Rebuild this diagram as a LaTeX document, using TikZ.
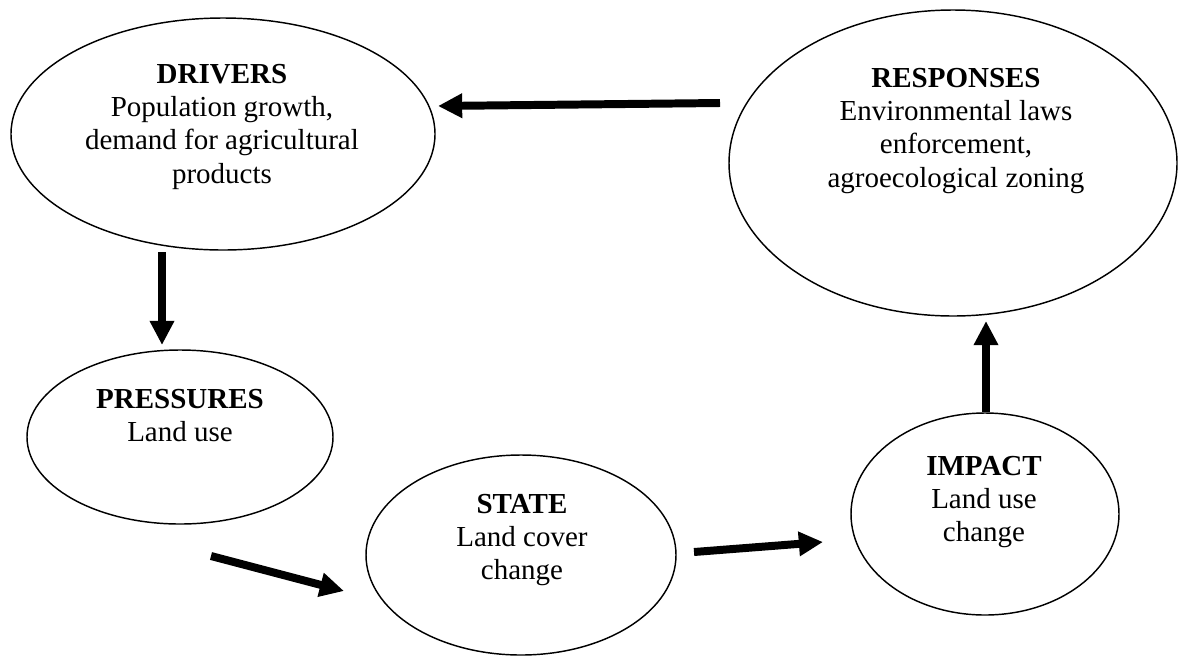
\documentclass[tikz,border=0pt]{standalone}
\usepackage{fontspec}
\setmainfont{Liberation Serif}
\usetikzlibrary{shapes.geometric,arrows.meta}
\tikzset{
  oval/.style={ellipse, draw=black, line width=0.6pt, inner sep=0pt},
  lbl/.style={anchor=base, inner sep=0pt, font=\fontsize{12}{13.8}\selectfont},
  bigarrow/.style={line width=3.3pt, -{Triangle[length=10pt,width=9.6pt]}},
}
\newcommand{\stack}[1]{\begin{tabular}[t]{@{}c@{}}#1\end{tabular}}
\begin{document}
\begin{tikzpicture}[x=0.41379pt, y=-0.41379pt]
\useasboundingbox (0,0) rectangle (1178,655);
% ellipses
\node[oval, minimum width=424*0.41379pt, minimum height=232*0.41379pt] (drivers) at (223,134) {};
\node[oval, minimum width=448*0.41379pt, minimum height=306*0.41379pt] (responses) at (953,163) {};
\node[oval, minimum width=306*0.41379pt, minimum height=174*0.41379pt] (pressures) at (180,437) {};
\node[oval, minimum width=310*0.41379pt, minimum height=200*0.41379pt] (state) at (521,555) {};
\node[oval, minimum width=268*0.41379pt, minimum height=202*0.41379pt] (impact) at (985,514) {};
% texts
\node[lbl] (tdrivers) at (222,83) {\stack{\textbf{DRIVERS}\\Population growth,\\demand for agricultural\\products}};
\node[lbl] (tresponses) at (956,87) {\stack{\textbf{RESPONSES}\\Environmental laws\\enforcement,\\agroecological zoning}};
\node[lbl] (tpressures) at (180,408) {\stack{\textbf{PRESSURES}\\Land use}};
\node[lbl] (tstate) at (522,513) {\stack{\textbf{STATE}\\Land cover\\change}};
\node[lbl] (timpact) at (984,475) {\stack{\textbf{IMPACT}\\Land use\\change}};
% arrow end points
\coordinate (r2d-s) at (720,103);
\coordinate (r2d-e) at (438,106);
\coordinate (d2p-s) at (162,252);
\coordinate (d2p-e) at (162,345);
\coordinate (p2s-s) at (211,556);
\coordinate (p2s-e) at (344,591);
\coordinate (s2i-s) at (694,552);
\coordinate (s2i-e) at (823,542);
\coordinate (i2r-s) at (986,412);
\coordinate (i2r-e) at (986,321);
\draw[bigarrow] (r2d-s) -- (r2d-e);
\draw[bigarrow] (d2p-s) -- (d2p-e);
\draw[bigarrow] (p2s-s) -- (p2s-e);
\draw[bigarrow] (s2i-s) -- (s2i-e);
\draw[bigarrow] (i2r-s) -- (i2r-e);
\end{tikzpicture}
\end{document}
